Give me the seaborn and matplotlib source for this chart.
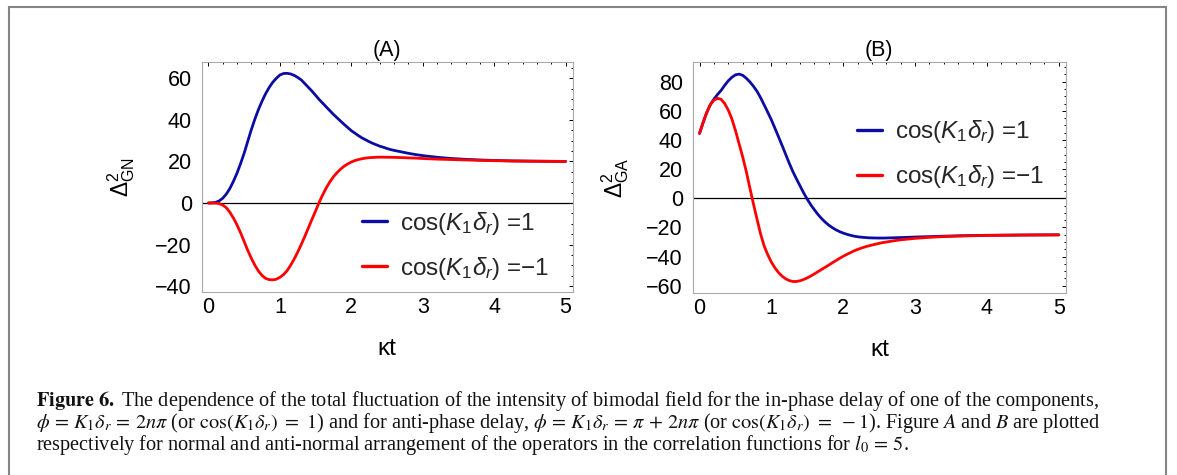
import numpy as np
import pandas as pd
import matplotlib
matplotlib.use("Agg")
import matplotlib.pyplot as plt
import seaborn as sns
from matplotlib.ticker import MultipleLocator
from matplotlib.patches import Rectangle

# ---------------- data ----------------
kt = [0.00, 0.05, 0.10, 0.15, 0.20, 0.25, 0.30, 0.35, 0.40, 0.45, 0.50, 0.55, 0.60,
      0.65, 0.70, 0.75, 0.80, 0.85, 0.90, 0.95, 1.00, 1.05, 1.10, 1.15, 1.20, 1.25,
      1.30, 1.35, 1.40, 1.45, 1.50, 1.55, 1.60, 1.65, 1.70, 1.75, 1.80, 1.85, 1.90,
      1.95, 2.00, 2.05, 2.10, 2.15, 2.20, 2.25, 2.30, 2.35, 2.40, 2.45, 2.50, 2.55,
      2.60, 2.7, 2.8, 2.9, 3.0, 3.2, 3.4, 3.6, 3.8, 4.0, 4.25, 4.5, 4.75, 5.0]

# Panel A : normal ordering
gn_in_phase = [0.0, 0.05, 0.3, 1.0, 2.3, 4.3, 7.0, 10.5, 14.4, 19.0, 24.0, 29.7, 35.3,
               40.4, 45.0, 49.0, 52.6, 55.6, 58.1, 60.0, 61.6, 62.3, 62.4, 62.1, 61.4,
               60.4, 59.2, 57.4, 55.6, 53.8, 51.8, 49.8, 48.0, 46.2, 44.4, 42.6, 41.0,
               39.4, 37.8, 36.3, 34.8, 33.6, 32.4, 31.3, 30.4, 29.5, 28.7, 28.0, 27.3,
               26.8, 26.2, 25.7, 25.3, 24.6, 23.9, 23.3, 22.8, 22.0, 21.4, 21.0, 20.7,
               20.45, 20.25, 20.15, 20.05, 20.0]
gn_anti_phase = [0.0, 0.0, -0.05, -0.3, -1.0, -2.3, -4.5, -7.3, -10.6, -14.4, -18.6,
                 -22.8, -26.6, -30.0, -32.8, -34.9, -36.3, -36.9, -37.0, -36.7, -35.8,
                 -34.5, -32.6, -30.0, -27.0, -23.6, -19.9, -16.0, -11.9, -7.8, -3.8,
                 0.3, 4.0, 7.3, 10.2, 12.6, 14.6, 16.3, 17.7, 18.8, 19.7, 20.4, 20.9,
                 21.3, 21.6, 21.8, 21.9, 22.0, 22.05, 22.05, 22.0, 22.0, 21.95, 21.85,
                 21.7, 21.6, 21.4, 21.1, 20.9, 20.7, 20.5, 20.35, 20.2, 20.1, 20.05, 20.0]

# Panel B : anti-normal ordering
ga_in_phase = [44.5, 52.0, 58.8, 64.2, 68.0, 71.2, 74.0, 77.5, 80.6, 83.0, 84.7, 85.2,
               84.4, 82.4, 79.9, 76.9, 73.4, 69.0, 64.0, 59.0, 53.8, 48.0, 42.1, 36.1,
               30.0, 23.9, 18.2, 13.2, 8.4, 3.6, -0.7, -4.6, -8.0, -11.2, -14.0, -16.4,
               -18.5, -20.2, -21.7, -22.9, -23.9, -24.7, -25.4, -26.0, -26.4, -26.7,
               -26.9, -27.1, -27.2, -27.25, -27.3, -27.3, -27.25, -27.1, -26.95, -26.8,
               -26.6, -26.3, -26.0, -25.75, -25.55, -25.4, -25.3, -25.2, -25.15, -25.1]
ga_anti_phase = [44.5, 52.0, 58.8, 64.2, 67.3, 68.6, 67.9, 65.0, 60.5, 54.5, 46.5, 37.5,
                 28.5, 18.5, 7.2, -3.8, -14.3, -24.5, -32.8, -38.8, -43.8, -47.8, -51.0,
                 -53.5, -55.3, -56.5, -57.1, -57.1, -56.6, -55.7, -54.6, -53.3, -51.8,
                 -50.3, -48.8, -47.3, -45.8, -44.2, -42.7, -41.2, -39.8, -38.5, -37.3,
                 -36.1, -35.1, -34.2, -33.4, -32.7, -32.1, -31.5, -30.9, -30.4, -30.0,
                 -29.2, -28.5, -28.0, -27.5, -26.8, -26.3, -25.95, -25.7, -25.5, -25.35,
                 -25.25, -25.15, -25.1]

panel_titles = ["(A)", "(B)"]
y_labels = [r"$\Delta^{2}_{\mathrm{GN}}$", r"$\Delta^{2}_{\mathrm{GA}}$"]
x_label = "κt"
series_labels = [r"$\mathrm{cos(}K_1\delta_r\mathrm{)}$ =1",
                 r"$\mathrm{cos(}K_1\delta_r\mathrm{)}$ =−1"]
y_limits = [(-42.7, 67.7), (-65.2, 93.3)]

caption_lines = [
    r"$\mathbf{Figure\ 6.}$ The dependence of the total fluctuation of the intensity of bimodal field for the in-phase delay of one of the components,",
    r"$\phi\,=\,K_1\delta_r\,=\,2n\pi$ (or $\cos(K_1\delta_r)\ =\ 1$) and for anti-phase delay, $\phi\,=\,K_1\delta_r\,=\,\pi\,+\,2n\pi$ (or $\cos(K_1\delta_r)\ =\ -1$). Figure $A$ and $B$ are plotted",
    r"respectively for normal and anti-normal arrangement of the operators in the correlation functions for $l_0\,=\,5$.",
]

colors = ["#0c0ca3", "#ff0000"]

# ---------------- style ----------------
sns.set_theme(style="white")
plt.rcParams["font.family"] = ["Liberation Sans", "DejaVu Sans"]
plt.rcParams["mathtext.fontset"] = "custom"
plt.rcParams["mathtext.rm"] = "Liberation Sans"
plt.rcParams["mathtext.it"] = "Liberation Sans:italic"
plt.rcParams["mathtext.bf"] = "Liberation Sans:bold"
plt.rcParams["axes.unicode_minus"] = True

W, H = 1177, 475
fig = plt.figure(figsize=(W / 100, H / 100), dpi=100)
fig.patch.set_facecolor("white")

FS = 15.5
LFS = 17.5

# axes rectangles in pixels: left, top, right, bottom
ax_px = [(201.7, 62.3, 572.7, 291.7), (692.7, 62.3, 1066.0, 293.3)]
ylab_x = [-0.216, -0.207]
xlab_y = [-0.250, -0.245]
leg_anchor = [(0.431, 0.201), (0.439, 0.602)]

data_sets = [(gn_in_phase, gn_anti_phase), (ga_in_phase, ga_anti_phase)]

for i in range(2):
    l, t, r, b = ax_px[i]
    ax = fig.add_axes([l / W, 1 - b / H, (r - l) / W, (b - t) / H])
    ax.set_facecolor("white")
    s1, s2 = data_sets[i]
    df = pd.DataFrame({
        "kt": kt + kt,
        "value": s1 + s2,
        "series": [series_labels[0]] * len(kt) + [series_labels[1]] * len(kt),
    })
    ax.axhline(0, color="black", lw=0.9, zorder=1)
    sns.lineplot(data=df, x="kt", y="value", hue="series", palette=colors,
                 estimator=None, sort=False, lw=2.0, ax=ax, zorder=3)
    ax.set_xlim(-0.095, 5.1)
    ax.set_ylim(*y_limits[i])
    ax.xaxis.set_major_locator(MultipleLocator(1))
    ax.xaxis.set_minor_locator(MultipleLocator(0.2))
    ax.yaxis.set_major_locator(MultipleLocator(20))
    ax.yaxis.set_minor_locator(MultipleLocator(5))
    ax.tick_params(which="both", direction="in", top=True, right=True,
                   color="black", width=0.7, labelsize=FS, labelcolor="black")
    ax.tick_params(which="major", length=3.0)
    ax.tick_params(which="minor", length=1.7)
    ax.tick_params(axis="y", which="major", pad=7.0)
    ax.tick_params(axis="x", which="major", pad=3.5)
    for sp in ax.spines.values():
        sp.set_color("#aaaaaa")
        sp.set_linewidth(0.8)
        sp.set_visible(True)
    ax.set_title(panel_titles[i], fontsize=FS, pad=4.5, color="black")
    ax.set_ylabel(y_labels[i], fontsize=16.5, color="black", va="center", ha="center")
    ax.yaxis.set_label_coords(ylab_x[i], 0.5)
    ax.set_xlabel(x_label, fontsize=LFS, color="black", va="center")
    ax.xaxis.set_label_coords(0.5, xlab_y[i])
    handles, labels = ax.get_legend_handles_labels()
    ax.legend(handles, labels, loc="center left", bbox_to_anchor=leg_anchor[i],
              frameon=False, fontsize=LFS, handlelength=1.03, handletextpad=0.55,
              labelspacing=0.74, borderpad=0, borderaxespad=0)
    for ln in ax.get_legend().get_lines():
        ln.set_linewidth(2.4)

# outer border (box continues below the cut)
fig.add_artist(Rectangle((9 / W, -0.2), (1165.7 - 9) / W, 1.2 - 6.7 / H,
                         transform=fig.transFigure, fill=False,
                         edgecolor="#858585", lw=1.5, clip_on=False))

# caption
cap_base = [406, 428.3, 450]
for line, yb in zip(caption_lines, cap_base):
    fig.text(36 / W, 1 - yb / H, line, fontsize=14.6, family="Liberation Serif",
             math_fontfamily="stix", va="baseline", ha="left", color="#111111")

fig.savefig("out.png", dpi=100, facecolor="white")
